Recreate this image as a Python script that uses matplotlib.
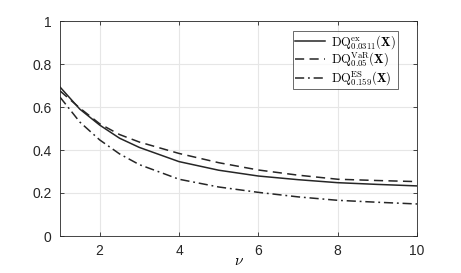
import numpy as np
import matplotlib
matplotlib.use('Agg')
import matplotlib.pyplot as plt

# values
nu = [1, 1.5, 2, 2.5, 3, 4, 5, 6, 7, 8, 9, 10]
dq_ex = [0.693, 0.590, 0.516, 0.455, 0.412, 0.346, 0.306, 0.279, 0.262, 0.248, 0.240, 0.233]
dq_var = [0.675, 0.595, 0.522, 0.472, 0.437, 0.384, 0.341, 0.307, 0.283, 0.264, 0.258, 0.253]
dq_es = [0.646, 0.530, 0.447, 0.382, 0.332, 0.264, 0.228, 0.203, 0.182, 0.166, 0.157, 0.149]

labels = [r'$\mathrm{DQ}^{\mathrm{ex}}_{0.0311}(\mathbf{X})$',
          r'$\mathrm{DQ}^{\mathrm{VaR}}_{0.05}(\mathbf{X})$',
          r'$\mathrm{DQ}^{\mathrm{ES}}_{0.159}(\mathbf{X})$']

plt.rcParams['font.family'] = ['Liberation Sans', 'DejaVu Sans']
plt.rcParams['mathtext.fontset'] = 'cm'

fig = plt.figure(figsize=(4.61, 2.73), dpi=100)
ax = fig.add_axes([60 / 461, 37 / 273, 357 / 461, 215 / 273])

col = '#262626'
ax.plot(nu, dq_ex, color=col, lw=1.1, ls='-', label=labels[0])
ax.plot(nu, dq_var, color=col, lw=1.1, ls=(0, (6, 3.5)), label=labels[1])
ax.plot(nu, dq_es, color=col, lw=1.1, ls=(0, (6, 2.5, 1.2, 2.5)), label=labels[2])

ax.set_xlim(1, 10)
ax.set_ylim(0, 1)
ax.set_xticks([2, 4, 6, 8, 10])
ax.set_yticks([0, 0.2, 0.4, 0.6, 0.8, 1])
ax.set_yticklabels(['0', '0.2', '0.4', '0.6', '0.8', '1'])
ax.grid(True, color='#e6e6e6', lw=0.8)
ax.set_axisbelow(True)
ax.tick_params(direction='in', length=3, width=0.6, colors='#262626',
               labelsize=10, top=True, right=True, pad=6)
for s in ax.spines.values():
    s.set_color('#262626')
    s.set_linewidth(0.6)
ax.set_xlabel(r'$\nu$', fontsize=11, labelpad=-3)

leg = ax.legend(loc='upper right', bbox_to_anchor=(0.947, 0.953), fontsize=9,
                frameon=True, fancybox=False, handlelength=2.4,
                borderpad=0.15, labelspacing=0.0, handletextpad=0.5,
                borderaxespad=0)
leg.get_frame().set_edgecolor('#262626')
leg.get_frame().set_linewidth(0.6)

fig.savefig('out.png', dpi=100)
